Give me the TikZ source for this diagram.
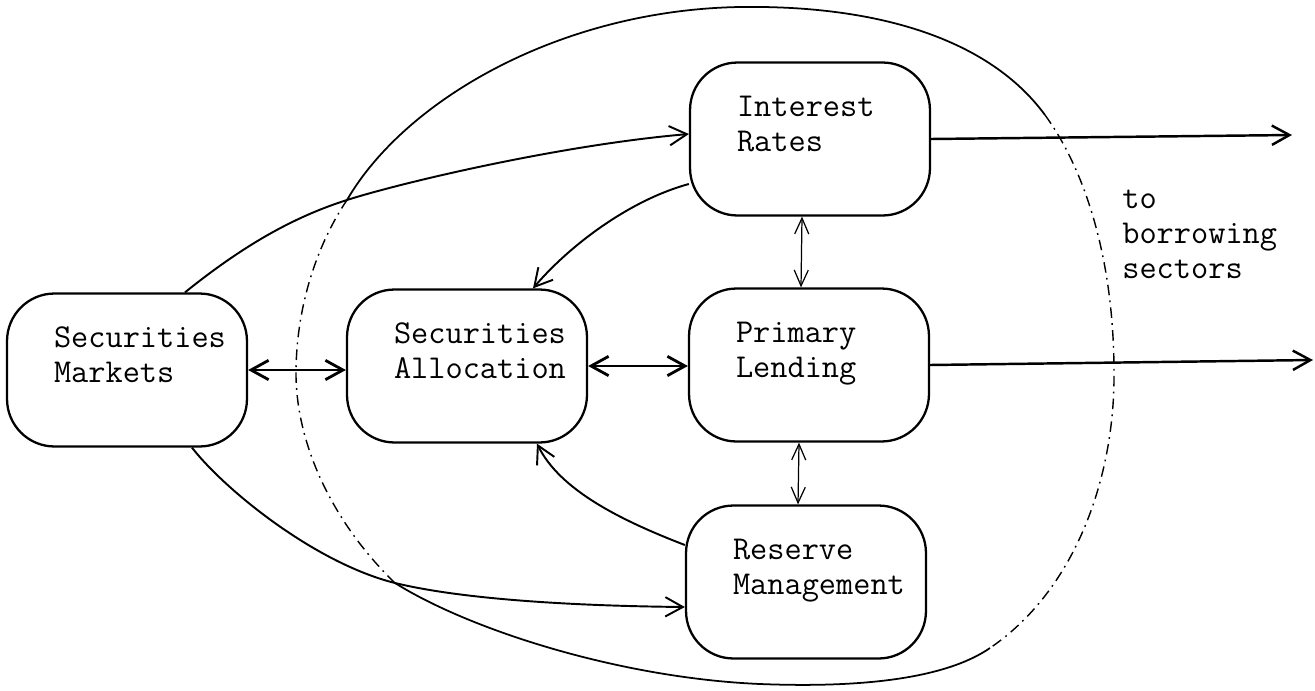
\documentclass[tikz,border=0pt]{standalone}
\usetikzlibrary{arrows.meta}

\tikzset{
  block/.style={draw, line width=1.3pt, rounded corners=0.95cm,
    font=\ttfamily\fontsize{19}{20}\selectfont, align=left,
    text width=2.92cm, inner xsep=0.94cm, inner ysep=0.6cm,
    text height=0.48cm, text depth=1.38cm,
    execute at begin node={\hyphenpenalty=10000 }},
  flow/.style={line width=1.1pt, -{Straight Barb[length=10pt,width=11pt]}},
  both/.style={line width=1.6pt,
    {Straight Barb[length=10pt,width=11pt]}-{Straight Barb[length=10pt,width=11pt]}},
  thin both/.style={line width=0.7pt,
    {Straight Barb[length=9pt,width=8pt]}-{Straight Barb[length=9pt,width=8pt]}},
  border/.style={line width=1pt},
  dashdot/.style={line width=0.8pt, dash pattern=on 6pt off 3pt on 1pt off 3pt},
}

\begin{document}
\begin{tikzpicture}[x=0.02cm, y=-0.02cm]
  \useasboundingbox (0,0) rectangle (1315,690);

  % the five sectors
  \node[block] (sm) at (127,370) {Securities\\Markets};
  \node[block] (sa) at (467,366) {Securities\\Allocation};
  \node[block] (ir) at (810,139) {Interest\\Rates};
  \node[block] (pl) at (809,365) {Primary\\Lending};
  \node[block] (rm) at (806,582) {Reserve\\Management};

  \node[font=\ttfamily\fontsize{19}{20}\selectfont, align=left, text width=3.4cm,
    anchor=base west, inner sep=0] (to) at (1122,208) {to\\borrowing\\sectors};

  % boundary of the banking system
  \coordinate (tl) at (347,200);
  \coordinate (tr) at (1045,115);
  \coordinate (br) at (990,648);
  \coordinate (bl) at (395,583);
  \coordinate (out1) at (1292,135);
  \coordinate (out2) at (1313,360);

  \draw[border] (tl) .. controls (405,100) and (560,10) .. (740,7)
    .. controls (880,5) and (990,40) .. (tr);
  \draw[dashdot] (tr) .. controls (1085,170) and (1115,260) .. (1114,380)
    .. controls (1113,480) and (1075,590) .. (br);
  \draw[border] (br) .. controls (945,679) and (860,688) .. (760,684)
    .. controls (620,678) and (470,630) .. (bl);
  \draw[dashdot] (bl) .. controls (330,520) and (295,440) .. (296,370)
    .. controls (297,300) and (320,240) .. (tl);

  % links
  \draw[flow] ([xshift=1.16cm]sm.north) .. controls (250,240) and (300,215) .. (tl)
    .. controls (400,183) and (560,145) .. ([yshift=0.1cm]ir.west);
  \draw[flow] ([xshift=1.3cm]sm.south) .. controls (225,490) and (315,563) .. (bl)
    .. controls (465,600) and (580,606) .. ([yshift=-0.5cm]rm.west);
  \draw[both] (sm.east) -- (sm.east -| sa.west);
  \draw[both] (sa.east) -- (sa.east -| pl.west);
  \draw[thin both] ([xshift=-0.16cm]ir.south) -- ([xshift=-0.16cm]pl.north);
  \draw[thin both] ([xshift=-0.2cm]pl.south) -- ([xshift=-0.16cm]rm.north);
  \draw[flow] ([yshift=-0.9cm]ir.west) .. controls (630,200) and (570,245)
    .. ([xshift=1.32cm]sa.north);
  \draw[flow] ([yshift=0.74cm]rm.west) .. controls (620,520) and (560,490)
    .. ([xshift=1.4cm]sa.south);
  \draw[flow, line width=1.4pt] (ir.east) -- (out1);
  \draw[flow, line width=1.4pt] (pl.east) -- (out2);
\end{tikzpicture}
\end{document}
